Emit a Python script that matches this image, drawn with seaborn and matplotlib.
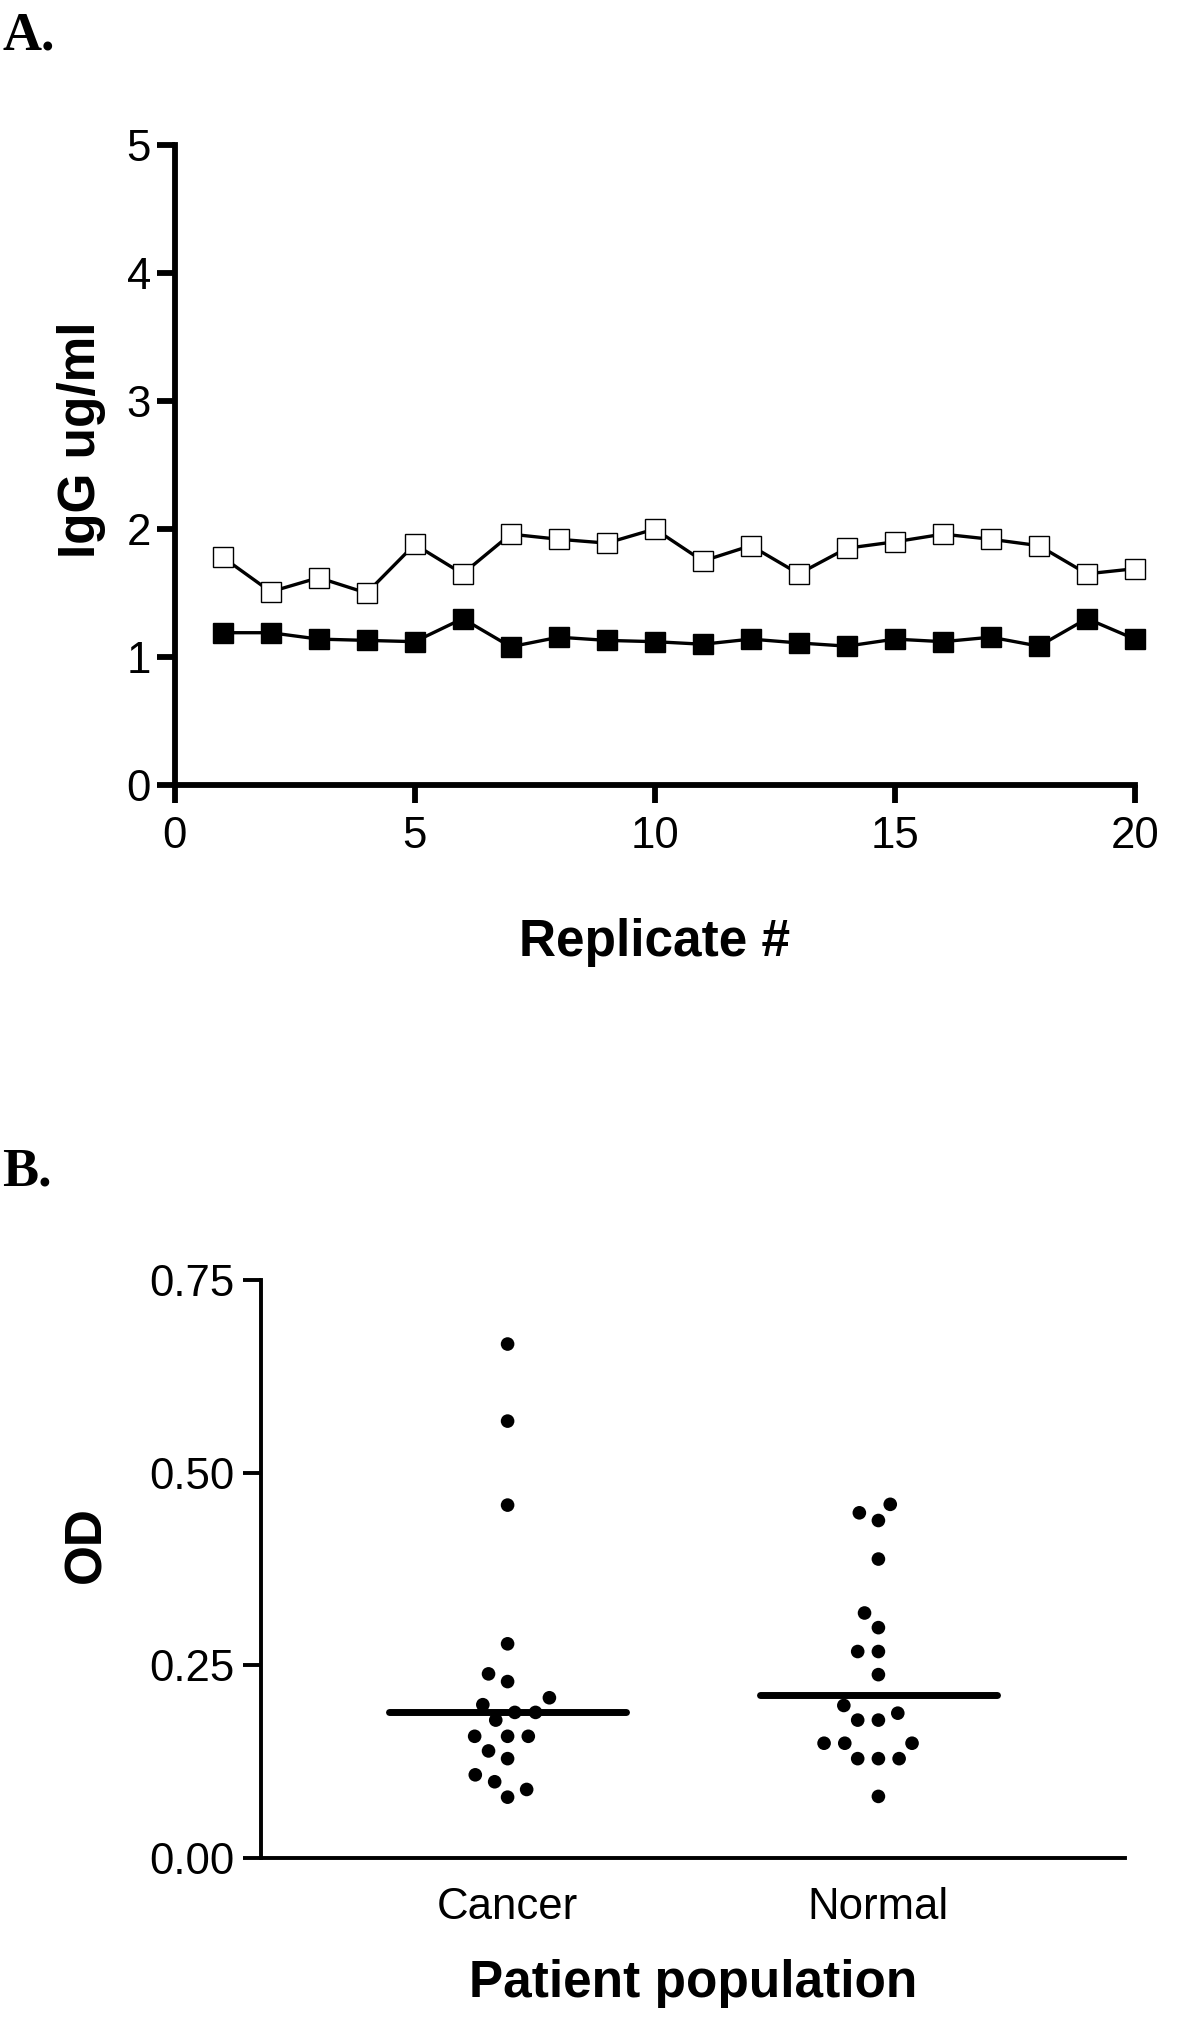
import numpy as np
import pandas as pd
import seaborn as sns
import matplotlib
matplotlib.use("Agg")
import matplotlib.pyplot as plt

# panel A: IgG standard replicates
replicate = list(range(1, 21))
igg_high = [1.78, 1.51, 1.62, 1.50, 1.88, 1.65, 1.96, 1.92, 1.89, 2.00,
            1.75, 1.87, 1.65, 1.85, 1.90, 1.96, 1.92, 1.87, 1.65, 1.69]
igg_low = [1.19, 1.19, 1.14, 1.13, 1.12, 1.30, 1.08, 1.155, 1.13, 1.12,
           1.10, 1.14, 1.11, 1.085, 1.14, 1.12, 1.155, 1.085, 1.30, 1.14]

# panel B: OD per patient group
groups = ["Cancer", "Normal"]
od_cancer = [0.667, 0.567, 0.458, 0.278, 0.239, 0.229, 0.208, 0.199, 0.189, 0.189,
             0.179, 0.158, 0.158, 0.158, 0.139, 0.129, 0.108, 0.099, 0.089, 0.079]
od_normal = [0.459, 0.448, 0.438, 0.388, 0.318, 0.299, 0.268, 0.268, 0.238, 0.198,
             0.188, 0.179, 0.179, 0.149, 0.149, 0.149, 0.129, 0.129, 0.129, 0.080]
center_line = [0.190, 0.211]

sns.set_style("ticks")
plt.rcParams["font.family"] = ["Liberation Sans", "DejaVu Sans"]
for key in ["text.color", "axes.labelcolor", "xtick.color", "ytick.color", "axes.edgecolor"]:
    plt.rcParams[key] = "black"

fig = plt.figure(figsize=(12, 20.28), dpi=100)

# ---- panel A
ax1 = fig.add_axes([0.1455, 0.6129, 0.8003, 0.3156])
df_a = pd.DataFrame({"rep": replicate, "high": igg_high, "low": igg_low})
sns.lineplot(data=df_a, x="rep", y="high", ax=ax1, color="black", lw=2.4,
             marker="s", markersize=14.5, markerfacecolor="white",
             markeredgecolor="black", markeredgewidth=1.0)
sns.lineplot(data=df_a, x="rep", y="low", ax=ax1, color="black", lw=2.4,
             marker="s", markersize=14.5, markerfacecolor="black",
             markeredgecolor="black", markeredgewidth=1.0)
for ln in ax1.lines:
    ln.set_clip_on(False)
ax1.set_xlim(0, 20)
ax1.set_ylim(0, 5)
ax1.set_xticks([0, 5, 10, 15, 20])
ax1.set_yticks([0, 1, 2, 3, 4, 5])
sns.despine(ax=ax1)
for s in ["left", "bottom"]:
    ax1.spines[s].set_linewidth(4.2)
ax1.tick_params(length=13, width=4.2, labelsize=31.5, pad=4)
ax1.tick_params(axis="x", pad=9)
ax1.set_xlabel("Replicate #", fontsize=37, fontweight="bold", va="baseline")
ax1.set_ylabel("IgG ug/ml", fontsize=37, fontweight="bold", va="baseline")
ax1.xaxis.set_label_coords(0.5, -0.267)
ax1.yaxis.set_label_coords(-0.083, 0.539)

# ---- panel B
ax2 = fig.add_axes([0.2175, 0.0838, 0.72, 0.285])
df_b = pd.DataFrame({
    "group": ["Cancer"] * len(od_cancer) + ["Normal"] * len(od_normal),
    "od": od_cancer + od_normal,
})
sns.swarmplot(data=df_b, x="group", y="od", order=groups, color="black",
              size=9.8, ax=ax2)
for coll in ax2.collections:
    coll.set_edgecolor("none")
    coll.set_linewidth(4.4)  # widens swarm spacing only
pos = np.arange(len(groups))
ax2.hlines(center_line, pos - 0.32, pos + 0.32,
           color="black", lw=5, capstyle="round", zorder=5)
ax2.set_xlim(-0.665, 1.665)
ax2.set_ylim(0, 0.75)
ax2.set_yticks([0, 0.25, 0.5, 0.75])
ax2.set_yticklabels(["0.00", "0.25", "0.50", "0.75"])
sns.despine(ax=ax2)
for s in ["left", "bottom"]:
    ax2.spines[s].set_linewidth(2.8)
ax2.tick_params(axis="y", length=13, width=2.8, labelsize=31.5, pad=6)
ax2.tick_params(axis="x", length=0, labelsize=31.5, pad=21)
ax2.set_xlabel("Patient population", fontsize=37, fontweight="bold", va="baseline")
ax2.set_ylabel("OD", fontsize=37, fontweight="bold", va="baseline")
ax2.xaxis.set_label_coords(0.5, -0.240)
ax2.yaxis.set_label_coords(-0.186, 0.543)

# panel letters
fig.text(0.002, 1 - 50 / 2028, "A.", fontsize=39, fontweight="bold",
         family="Liberation Serif", va="baseline")
fig.text(0.002, 1 - 1186 / 2028, "B.", fontsize=39, fontweight="bold",
         family="Liberation Serif", va="baseline")

fig.savefig("out.png", dpi=100)
